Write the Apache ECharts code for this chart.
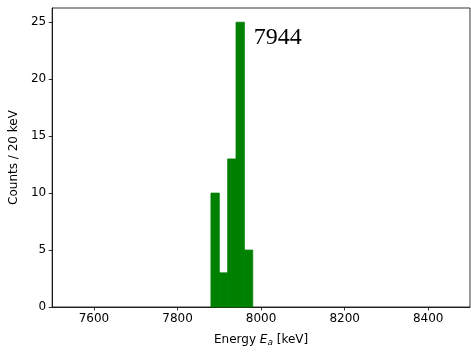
<!DOCTYPE html>
<html>
<head>
<meta charset="utf-8">
<script src="https://cdn.jsdelivr.net/npm/echarts@6/dist/echarts.min.js"></script>
<style>
  html, body { margin: 0; padding: 0; background: #fff; }
  #chart { width: 471px; height: 352px; }
</style>
</head>
<body>
<div id="chart"></div>
<script>
// Histogram of alpha energies, 20 keV bins
const binStarts = [7880, 7900, 7920, 7940, 7960];
const binCounts = [10, 3, 13, 25, 5];
const binWidth = 20;

// Peak annotation (text and its anchor in data coordinates)
const peakLabel = '7944';
const peakLabelAt = [7980, 23];

// Axis ticks
const xTicks = [7600, 7800, 8000, 8200, 8400];
const yTicks = [0, 5, 10, 15, 20, 25];

const font = 'DejaVu Sans';

const chart = echarts.init(document.getElementById('chart'), null, { renderer: 'canvas' });

const histData = binStarts.map((s, i) => [s, s + binWidth, binCounts[i]]);

chart.setOption({
  animation: false,
  grid: {
    left: 52, top: 8, right: 1, bottom: 43,
    show: true, borderColor: '#000', borderWidth: 0.8,
    backgroundColor: 'transparent'
  },
  xAxis: {
    type: 'value', min: 7500, max: 8500,
    name: 'Energy {it|E}{sub|a} [keV]',
    nameLocation: 'middle', nameGap: 25,
    nameTextStyle: {
      fontFamily: font, fontSize: 12, color: '#000',
      rich: {
        it: { fontFamily: font, fontStyle: 'italic', fontSize: 12, color: '#000' },
        sub: { fontFamily: font, fontStyle: 'italic', fontSize: 9, color: '#000', verticalAlign: 'bottom', padding: [6, 0, 0, 0] }
      }
    },
    axisLine: { lineStyle: { color: '#000', width: 0.8 } },
    axisTick: { length: 3.5, lineStyle: { color: '#000', width: 0.8 }, customValues: xTicks },
    axisLabel: {
      fontFamily: font, fontSize: 12, color: '#000', margin: 6, customValues: xTicks,
      formatter: function (v) { return String(v); }
    },
    splitLine: { show: false }
  },
  yAxis: {
    type: 'value', min: 0, max: 26.25,
    name: 'Counts / 20 keV',
    nameLocation: 'middle', nameGap: 31,
    nameTextStyle: { fontFamily: font, fontSize: 12, color: '#000' },
    axisLine: { show: true, lineStyle: { color: '#000', width: 0.8 } },
    axisTick: { show: true, length: 3.5, lineStyle: { color: '#000', width: 0.8 }, customValues: yTicks },
    axisLabel: {
      fontFamily: font, fontSize: 12, color: '#000', margin: 6, customValues: yTicks,
      formatter: function (v) { return String(v); }
    },
    splitLine: { show: false }
  },
  series: [
    {
      type: 'custom',
      data: histData,
      encode: { x: [0, 1], y: 2 },
      renderItem: function (params, api) {
        const p0 = api.coord([api.value(0), api.value(2)]);
        const p1 = api.coord([api.value(1), 0]);
        return {
          type: 'rect',
          shape: { x: p0[0], y: p0[1], width: p1[0] - p0[0], height: p1[1] - p0[1] },
          style: { fill: '#008000', stroke: '#008000', lineWidth: 0.8 }
        };
      }
    },
    {
      type: 'custom',
      data: [peakLabelAt],
      encode: { x: 0, y: 1 },
      z: 5,
      renderItem: function (params, api) {
        const p = api.coord([api.value(0), api.value(1)]);
        return {
          type: 'text',
          x: p[0] + 1, y: p[1] + 5,
          style: {
            text: peakLabel,
            fontFamily: 'Liberation Serif',
            fontSize: 24,
            fill: '#000',
            align: 'left',
            verticalAlign: 'bottom'
          }
        };
      }
    }
  ]
});
</script>
</body>
</html>
